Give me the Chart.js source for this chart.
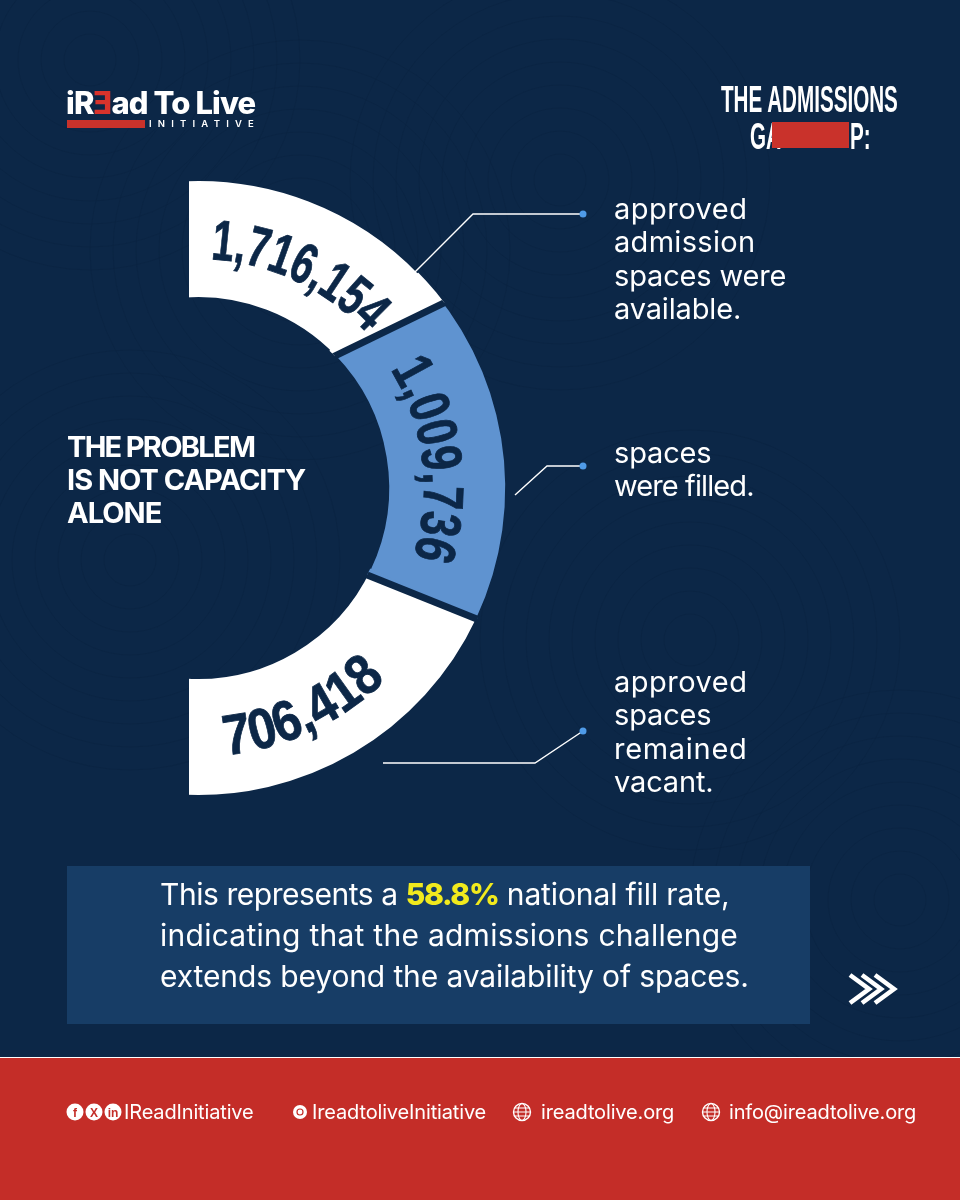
<!DOCTYPE html>
<html><head><meta charset="utf-8">
<script src="https://cdn.jsdelivr.net/npm/chart.js@4"></script>
<style>
html,body{margin:0;padding:0;background:#0c2747}
#page{position:relative;width:960px;height:1200px;overflow:hidden;background:#0c2747;font-family:"Inter","Noto Sans",sans-serif;color:#fff}
#page>*{position:absolute}
#bg{left:0;top:0}
#chartBox{left:189px;top:0;width:771px;height:1058px;overflow:hidden}
#c{position:absolute}
#over{left:0;top:0}
.lab{font-size:29px;line-height:33.3px;letter-spacing:-.15px;font-weight:400;white-space:pre-line;left:614px}
#title{left:67px;top:430px;font-size:29px;line-height:33px;font-weight:700;letter-spacing:-1px;white-space:pre-line}
#box{left:67px;top:866px;width:743px;height:158px;background:#173d66}
#msg{left:160px;top:874px;font-size:30px;line-height:41px;letter-spacing:-.12px;white-space:nowrap}
#msg b{color:#f1ea1d;font-weight:800;letter-spacing:-1.3px}
#foot{left:0;top:1057px;width:960px;height:143px;background:#c42d28;border-top:1.5px solid #fff;box-sizing:border-box}
.ft{top:1100px;font-size:20px;line-height:24px;letter-spacing:-.15px;white-space:nowrap}
.cond{font-family:"Liberation Sans",sans-serif;font-weight:700;font-size:36px;line-height:40px;white-space:nowrap;transform-origin:0 0;transform:scaleX(.573)}
</style></head>
<body><div id="page">
<svg id="bg" width="960" height="1058"></svg>
<div id="box"></div>
<div id="chartBox"><canvas id="c" width="960" height="1200"></canvas></div>
<div id="foot"></div>
<svg id="over" width="960" height="1200" xmlns="http://www.w3.org/2000/svg"></svg>

<div style="left:66px;top:84px;font-size:31px;line-height:38px;font-weight:800;letter-spacing:-.9px;white-space:nowrap">iR<span style="color:#d8332c;display:inline-block;transform:scaleX(-1)">E</span>ad To Live</div>
<div style="left:67px;top:120px;width:78px;height:8px;background:#c9322b"></div>
<div style="left:149px;top:118px;font-size:9.5px;line-height:12px;letter-spacing:6.2px;font-weight:600;white-space:nowrap">INITIATIVE</div>

<div class="cond" style="left:721px;top:80px">THE ADMISSIONS</div>
<div class="cond" style="left:750px;top:117px">GA</div>
<div style="left:772px;top:122px;width:77px;height:26px;background:#c9322b"></div>
<div class="cond" style="left:850px;top:117px">P:</div>

<div id="title"><span style="letter-spacing:-1.7px">THE PROBLEM</span>
IS NOT CAPACITY
ALONE</div>
<div class="lab" style="top:192px"><span style="letter-spacing:.5px">approved</span>
<span style="letter-spacing:.3px">admission</span>
spaces were
available.</div>
<div class="lab" style="top:436px">spaces
<span style="letter-spacing:-.9px">were filled.</span></div>
<div class="lab" style="top:665px"><span style="letter-spacing:.5px">approved</span>
spaces
<span style="letter-spacing:.7px">remained</span>
vacant.</div>
<div id="msg"><span style="letter-spacing:-.45px">This represents a </span><b>58.8%</b> national fill rate,<br><span style="letter-spacing:.26px">indicating that the admissions challenge</span><br>extends beyond the availability of spaces.</div>
<div class="ft" style="left:124px">IReadInitiative</div>
<div class="ft" style="left:312px">IreadtoliveInitiative</div>
<div class="ft" style="left:541px">ireadtolive.org</div>
<div class="ft" style="left:729px">info@ireadtolive.org</div>
</div>
<script>
// The arcs in the reference are not proportional to the printed figures,
// so the sweep of each arc is read from the picture, in degrees.
const categories = ["approved admission spaces were available", "spaces were filled", "approved spaces remained vacant"];
const printedValues = ["1,716,154", "1,009,736", "706,418"];
const arcSweepDegrees = [50.1, 69.1, 68.8];
const arcColors = ["#ffffff", "#5f93d0", "#ffffff"];
const labelAngleDegrees = [25.3, 83, 154.8];
const labelBaseRadius = [229, 226, 268.5];
const labelLength = [177, 195, 180];

const NAVY = "#0c2747";
const NS = "http://www.w3.org/2000/svg";
const over = document.getElementById("over");
function el(parent, name, attrs, text){
  const e = document.createElementNS(NS, name);
  for (const k in attrs) e.setAttribute(k, attrs[k]);
  if (text !== undefined) e.textContent = text;
  parent.appendChild(e);
  return e;
}

// faint background texture
const bg = document.getElementById("bg");
[[560,180],[130,560],[690,640],[300,250],[900,900],[90,60]].forEach(([x,y])=>{
  for (let r=26;r<=210;r+=23) el(bg,"circle",{cx:x,cy:y,r:r,fill:"none",stroke:"#0a2341","stroke-width":1,opacity:.6});
});

// leader lines
["415,272 473,214 583,214","515,495 547,466 583,466","383,763 535,763 583,731"].forEach(p=>{
  el(over,"polyline",{points:p,fill:"none",stroke:"#ffffff","stroke-width":1.4});
  const e = p.split(" ").pop().split(",");
  el(over,"circle",{cx:e[0],cy:e[1],r:3.5,fill:"#4f9be8"});
});

// chevrons
[850,862,875].forEach(x=>el(over,"polyline",{points:`${x},975 ${x+19},989 ${x},1003`,fill:"none",stroke:"#fff","stroke-width":4.6}));

// footer icons
[75,94,113].forEach((x,i)=>{
  el(over,"circle",{cx:x,cy:1112,r:8.5,fill:"#fff"});
  el(over,"text",{x:x,y:1117,"text-anchor":"middle","font-size":12,"font-weight":700,fill:"#c42d28","font-family":"Liberation Sans"},["f","X","in"][i]);
});
el(over,"circle",{cx:300,cy:1112,r:7,fill:"#fff"});
el(over,"circle",{cx:300,cy:1112,r:3,fill:"none",stroke:"#c42d28","stroke-width":1.2});
[522,711].forEach(x=>{
  el(over,"circle",{cx:x,cy:1112,r:8.5,fill:"none",stroke:"#fff","stroke-width":1.4});
  el(over,"ellipse",{cx:x,cy:1112,rx:4,ry:8.5,fill:"none",stroke:"#fff","stroke-width":1.1});
  el(over,"path",{d:`M${x-8.5} 1112H${x+8.5}M${x-7.5} 1108H${x+7.5}M${x-7.5} 1116H${x+7.5}`,stroke:"#fff","stroke-width":1.1,fill:"none"});
});

// The joints between the arcs are slanted, not radial: paint each joint over the ring.
const joints = [
  {outer:53, inner:46.1, base:46.1, baseOut:true, fill:"#ffffff"},
  {outer:115.2, inner:117.2, base:115.2, baseOut:false, fill:"#5f93d0"}
];
const jointPlugin = {
  id:"joints",
  afterDatasetsDraw(chart){
    const a = chart.getDatasetMeta(0).data[0];
    const {x,y,innerRadius:ri,outerRadius:ro} = a;
    const P = (deg,r)=>{const t=(deg-90)*Math.PI/180;return [x+r*Math.cos(t),y+r*Math.sin(t)];};
    const ctx = chart.ctx;
    ctx.save();
    ctx.beginPath();
    ctx.arc(x,y,ro+1,0,Math.PI*2);
    ctx.arc(x,y,ri-1,0,Math.PI*2,true);
    ctx.clip();
    joints.forEach(j=>{
      const A=P(j.inner,ri),B=P(j.outer,ro);
      const dx=(B[0]-A[0])*.25,dy=(B[1]-A[1])*.25;
      const A2=[A[0]-dx,A[1]-dy],B2=[B[0]+dx,B[1]+dy];
      const C=P(j.base,j.baseOut?ro*1.2:ri*.75);
      ctx.fillStyle=j.fill;
      ctx.beginPath();ctx.moveTo(...A2);ctx.lineTo(...B2);ctx.lineTo(...C);ctx.closePath();ctx.fill();
      ctx.strokeStyle=NAVY;ctx.lineWidth=7;
      ctx.beginPath();ctx.moveTo(...A2);ctx.lineTo(...B2);ctx.stroke();
    });
    ctx.restore();
  }
};

const canvas = document.getElementById("c");
const chart = new Chart(canvas,{
  type:"doughnut",
  data:{labels:categories,datasets:[{data:arcSweepDegrees,backgroundColor:arcColors,borderWidth:0,spacing:0}]},
  plugins:[jointPlugin],
  options:{
    responsive:false,animation:false,
    rotation:-4,circumference:188,cutout:"62.2%",radius:307,
    plugins:{legend:{display:false},tooltip:{enabled:false}}
  }
});

// place the ring so that its centre sits where the reference has it, then set the curved figures on it
const first = chart.getDatasetMeta(0).data[0];
const CX = 198, CY = 488;
canvas.style.left = (CX-189-first.x)+"px";
canvas.style.top = (CY-first.y)+"px";
const defs = el(over,"defs",{});
printedValues.forEach((v,i)=>{
  const flip = i===2, r = labelBaseRadius[i];
  const P = deg=>{const t=(deg-90)*Math.PI/180;return [CX+r*Math.cos(t),CY+r*Math.sin(t)];};
  const s = P(labelAngleDegrees[i]+(flip?50:-50)), e = P(labelAngleDegrees[i]+(flip?-50:50));
  el(defs,"path",{id:"arc"+i,d:`M${s[0]} ${s[1]}A${r} ${r} 0 0 ${flip?0:1} ${e[0]} ${e[1]}`});
  const t = el(over,"text",{"font-family":"Liberation Sans, sans-serif","font-weight":700,"font-size":57,fill:NAVY,stroke:NAVY,"stroke-width":.8,"text-anchor":"middle"});
  el(t,"textPath",{href:"#arc"+i,startOffset:"50%",textLength:labelLength[i],lengthAdjust:"spacingAndGlyphs"},v);
});
</script>
</body></html>
